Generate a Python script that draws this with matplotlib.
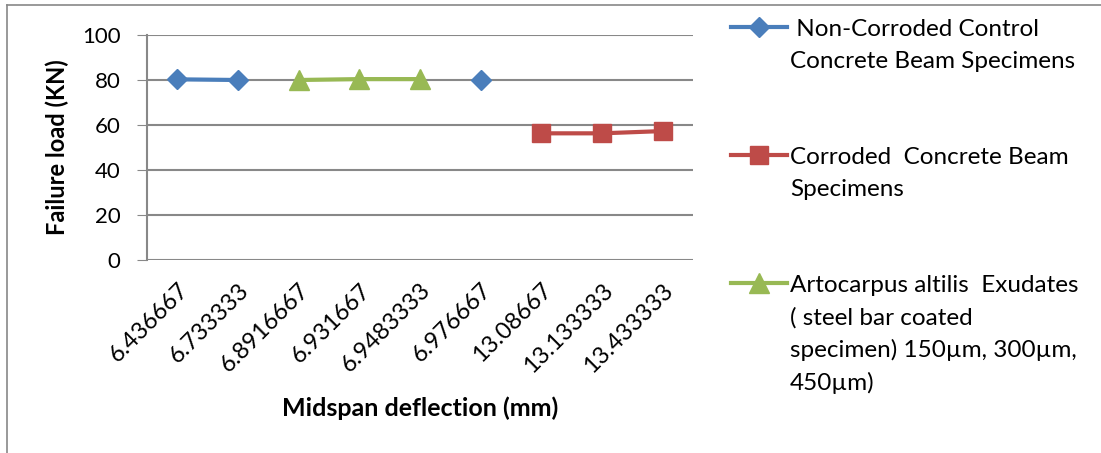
import numpy as np
import matplotlib.pyplot as plt
from matplotlib.lines import Line2D

plt.rcParams['font.family'] = ['Lato', 'DejaVu Sans']

# x categories (midspan deflection, mm)
deflection = ["6.436667", "6.733333", "6.8916667", "6.931667", "6.9483333",
              "6.976667", "13.08667", "13.133333", "13.433333"]

# failure load (KN), NaN where a series has no value
non_corroded = [80.3, 80.0, np.nan, np.nan, np.nan, 80.0, np.nan, np.nan, np.nan]
corroded = [np.nan, np.nan, np.nan, np.nan, np.nan, np.nan, 56.3, 56.3, 57.3]
coated = [np.nan, np.nan, 80.0, 80.4, 80.4, np.nan, np.nan, np.nan, np.nan]

labels = [[" Non-Corroded Control", "Concrete Beam Specimens"],
          ["Corroded  Concrete Beam", "Specimens"],
          ["Artocarpus altilis  Exudates", "( steel bar coated",
           "specimen) 150\u00b5m, 300\u00b5m,", "450\u00b5m)"]]

W, H = 1101, 453
fig = plt.figure(figsize=(W / 100, H / 100), dpi=100)
ax = fig.add_axes([147 / W, 1 - 260 / H, (693 - 147) / W, (260 - 35) / H])

x = np.arange(len(deflection))
styles = [dict(color='#4A7EBB', marker='D', ms=10),
          dict(color='#BE4B48', marker='s', ms=13),
          dict(color='#98B954', marker='^', ms=14)]
for vals, st in zip([non_corroded, corroded, coated], styles):
    ax.plot(x, vals, lw=3, **st)

ax.set_xlim(-0.5, len(deflection) - 0.5)
ax.set_ylim(0, 100)
ax.set_yticks(range(0, 101, 20))
ax.set_xticks(x)
ax.set_xticklabels(deflection, rotation=45, ha='right', rotation_mode='anchor')
ax.tick_params(axis='x', length=0, pad=14, labelsize=17)
ax.tick_params(axis='y', length=7, color='#888888', labelsize=16, pad=12)
ax.grid(axis='y', color='#888888', lw=1.5)
ax.set_axisbelow(True)
for s in ['top', 'right', 'bottom']:
    ax.spines[s].set_visible(False)
ax.spines['left'].set_color('#888888')
ax.spines['left'].set_linewidth(1.5)

ax.set_ylabel("Failure load (KN)", fontsize=17, fontweight='bold', labelpad=9)
ax.set_xlabel("Midspan deflection (mm)", fontsize=18, fontweight='bold', labelpad=14)

# legend, drawn entry by entry so the handle sits on the first text line
entry_y = [27, 155, 283]
pitch = 32.7
for st, lines, y0 in zip(styles, labels, entry_y):
    yf = 1 - y0 / H
    fig.add_artist(Line2D([731 / W, 759 / W, 787 / W], [yf, yf, yf], transform=fig.transFigure,
                          lw=3, markevery=[1], **st))
    for k, line in enumerate(lines):
        fig.text(790 / W, 1 - (y0 + k * pitch) / H, line, fontsize=17.5,
                 ha='left', va='center_baseline')

# outer chart border
fig.add_artist(Line2D([7 / W, 7 / W], [0, 1 - 5 / H], transform=fig.transFigure,
                      color='#888888', lw=1.2))
fig.add_artist(Line2D([7 / W, 1], [1 - 5 / H, 1 - 5 / H], transform=fig.transFigure,
                      color='#888888', lw=1.2))

fig.savefig('out.png', dpi=100)
